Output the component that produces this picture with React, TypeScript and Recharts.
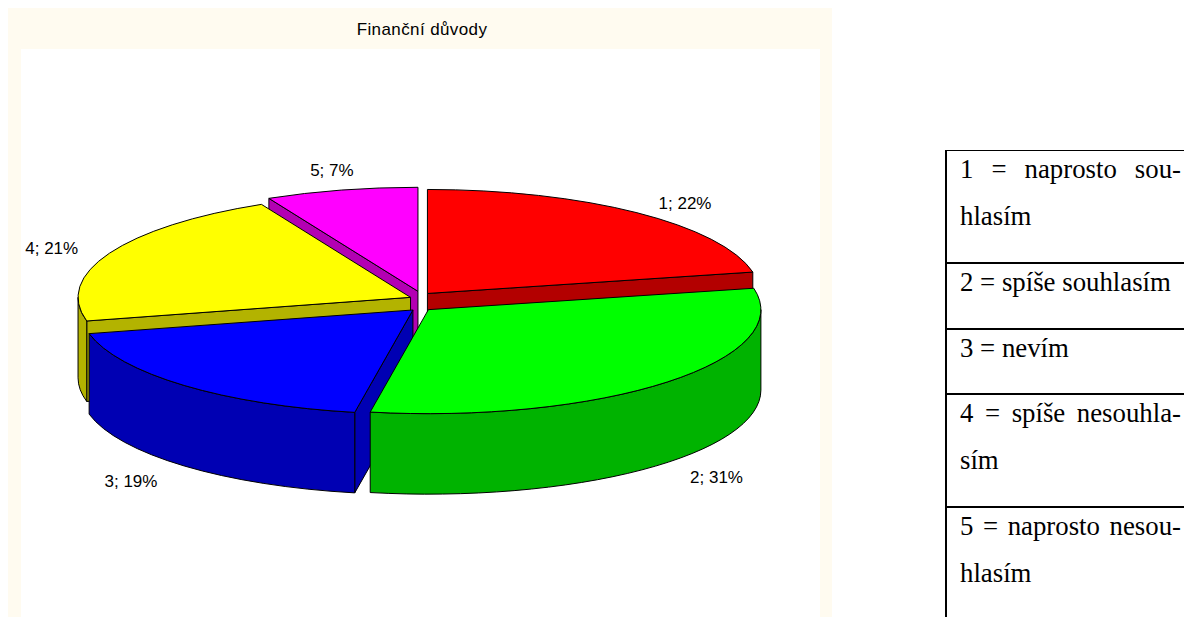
import { Pie, PieChart } from "recharts";

const title = "Finanční důvody";
const codes = [1, 2, 3, 4, 5];
// shares, the labels round them
const shares = [21.7, 31.1, 18.55, 21.25, 7.4];
const topColors = ["#ff0000", "#00ff00", "#0000ff", "#ffff00", "#ff00ff"];
const sideColors = ["#b30000", "#00b300", "#0000b3", "#b3b300", "#b300b3"];
const paintOrder = [5, 1, 4, 3, 2]; // back to front
const labelNudges = [[3, 1], [-2, 0], [-4, -3], [7, 1], [7, -7]];

const legendRows = [
  ["1 = naprosto sou-", "hlasím"],
  ["2 = spíše souhlasím"],
  ["3 = nevím"],
  ["4 = spíše nesouhla-", "sím"],
  ["5 = naprosto nesou-", "hlasím"],
];
const rowHeights = [113, 66, 65, 113, 111];

const data = codes.map((code, i) => ({
  code,
  value: shares[i],
  fill: topColors[i],
  side: sideColors[i],
}));

const CX = 420.5;
const CY = 302;
const RX = 332.5;
const RY = 104;
const DEPTH = 80.5;
const EXPLODE = 11;

const rad = (a: number) => (a * Math.PI) / 180;

function Slice(props: any) {
  const { startAngle: s, endAngle: e, midAngle: m, fill, side, cx, cy } = props;
  const ox = cx + EXPLODE * Math.cos(rad(m));
  const oy = cy - EXPLODE * Math.sin(rad(m));
  const pt = (a: number, dy = 0) =>
    `${ox + RX * Math.cos(rad(a))} ${oy - RY * Math.sin(rad(a)) + dy}`;
  const wall = (a: number) =>
    `M${ox} ${oy}L${pt(a)}L${pt(a, DEPTH)}L${ox} ${oy + DEPTH}Z`;

  // only the lower half of the rim faces the viewer
  const rimFrom = Math.min(s, 0);
  const rimTo = Math.max(e, -180);

  return (
    <g stroke="#000" strokeWidth={1} strokeLinejoin="round">
      {Math.cos(rad(s)) < -0.001 && <path d={wall(s)} fill={side} />}
      {Math.cos(rad(e)) > 0.001 && <path d={wall(e)} fill={side} />}
      {rimFrom > rimTo && (
        <path
          fill={side}
          d={`M${pt(rimFrom)}A${RX} ${RY} 0 0 1 ${pt(rimTo)}L${pt(rimTo, DEPTH)}A${RX} ${RY} 0 0 0 ${pt(rimFrom, DEPTH)}Z`}
        />
      )}
      <path
        fill={fill}
        d={`M${ox} ${oy}L${pt(s)}A${RX} ${RY} 0 ${s - e > 180 ? 1 : 0} 1 ${pt(e)}Z`}
      />
    </g>
  );
}

function sliceLabel(props: any) {
  const { cx, cy, midAngle, percent, payload } = props;
  const code = payload?.code ?? props.code;
  const [nx, ny] = labelNudges[code - 1];
  const sin = Math.sin(rad(midAngle));
  const x = cx + 415 * Math.cos(rad(midAngle)) + nx;
  const y = (sin > 0 ? cy - 128 * sin : cy - 252 * sin) + ny;
  return (
    <text
      x={x}
      y={y}
      textAnchor="middle"
      dominantBaseline="central"
      fontFamily="Liberation Sans"
      fontSize={17}
      fill="#000"
    >
      {`${code}; ${Math.round(percent * 100)}%`}
    </text>
  );
}

function Legend() {
  return (
    <div
      style={{
        position: "absolute",
        left: 945,
        top: 150,
        width: 239,
        borderLeft: "2px solid #000",
        borderTop: "1px solid #000",
        fontFamily: "Liberation Serif",
        fontSize: 26.8,
        color: "#000",
      }}
    >
      {legendRows.map((lines, i) => (
        <div
          key={i}
          style={{
            height: rowHeights[i],
            boxSizing: "border-box",
            borderBottom: i < legendRows.length - 1 ? "2px solid #000" : "none",
            padding: "0 5px 0 13px",
            overflow: "hidden",
          }}
        >
          {lines.map((line, j) => (
            <div
              key={j}
              style={{
                lineHeight: "47px",
                marginTop: j === 0 ? -5 : 0,
                textAlign: lines.length > 1 && j === 0 ? "justify" : "left",
                textAlignLast: lines.length > 1 && j === 0 ? "justify" : "left",
                whiteSpace: "nowrap",
              }}
            >
              {line}
            </div>
          ))}
        </div>
      ))}
    </div>
  );
}

export default function App() {
  return (
    <div style={{ position: "fixed", left: 0, top: 0, width: 1184, height: 617, overflow: "hidden", background: "#fff" }}>
      <div style={{ position: "absolute", left: 8, top: 8, width: 824, height: 609, background: "#fffbf0" }} />
      <div style={{ position: "absolute", left: 21, top: 49, width: 799, height: 568, background: "#fff" }} />
      <div
        style={{
          position: "absolute",
          left: 8,
          top: 20,
          width: 828,
          textAlign: "center",
          fontFamily: "Liberation Sans",
          fontSize: 17,
          letterSpacing: 0.4,
          lineHeight: "20px",
          color: "#000",
        }}
      >
        {title}
      </div>
      <div style={{ position: "absolute", left: 0, top: 0 }}>
        <PieChart width={832} height={617} margin={{ top: 0, right: 0, bottom: 0, left: 0 }}>
          {paintOrder.map((code) => (
            <Pie
              key={code}
              data={data}
              dataKey="value"
              nameKey="code"
              cx={CX}
              cy={CY}
              outerRadius={RX}
              startAngle={90}
              endAngle={-270}
              stroke="none"
              isAnimationActive={false}
              labelLine={false}
              label={code === paintOrder[paintOrder.length - 1] ? sliceLabel : false}
              shape={(p: any) => ((p.payload?.code ?? p.code) === code ? <Slice {...p} /> : <g />)}
            />
          ))}
        </PieChart>
      </div>
      <Legend />
    </div>
  );
}
